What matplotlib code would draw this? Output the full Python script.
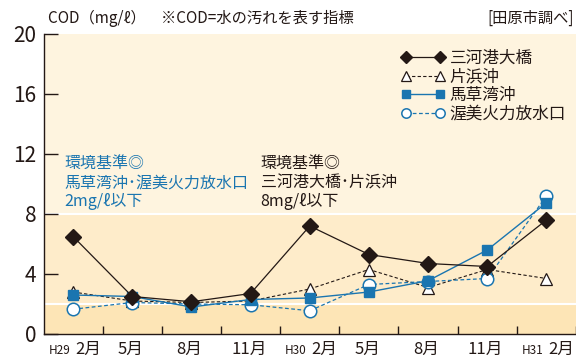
import numpy as np
import matplotlib
matplotlib.use('Agg')
import matplotlib.pyplot as plt
from matplotlib.transforms import blended_transform_factory

plt.rcParams['font.family'] = ['Noto Sans CJK JP', 'DejaVu Sans']

# months (quarterly survey), H29.2 - H31.2
months = ['2月', '5月', '8月', '11月', '2月', '5月', '8月', '11月', '2月']
era = ['H29', '', '', '', 'H30', '', '', '', 'H31']

# COD (mg/l) at each station
mikawa = [6.5, 2.5, 2.15, 2.7, 7.2, 5.3, 4.7, 4.5, 7.6]
katahama = [2.8, 2.2, 2.1, 2.2, 3.0, 4.3, 3.1, 4.3, 3.7]
bakusa = [2.6, 2.5, 1.8, 2.3, 2.4, 2.8, 3.55, 5.6, 8.75]
atsumi = [1.65, 2.1, 2.0, 1.95, 1.55, 3.3, 3.5, 3.7, 9.2]

black = '#231815'
blue = '#1a75b0'

x = np.arange(len(months))

fig = plt.figure(figsize=(5.76, 3.58), dpi=100)
ax = fig.add_axes([43.5 / 576, 24 / 358, 1 - 43.5 / 576, 300 / 358])
ax.set_xlim(-0.5, 8.5)
ax.set_ylim(0, 20)

# background bands for the standards (2 and 8 mg/l)
ax.axhspan(0, 2, color='#fde5b6', lw=0, zorder=0)
ax.axhspan(2, 8, color='#feecca', lw=0, zorder=0)
ax.axhspan(8, 20, color='#fef4df', lw=0, zorder=0)
ax.axhline(2, color='white', lw=1.5, zorder=1)
ax.axhline(8, color='white', lw=1.5, zorder=1)

l2, = ax.plot(x, katahama, ls=(0, (3, 2)), color=black, lw=0.8, marker='^', ms=9,
              mfc='white', mec=black, mew=0.9, zorder=3, label='片浜沖')
l4, = ax.plot(x, atsumi, ls=(0, (3, 2)), color=blue, lw=0.9, marker='o', ms=9,
              mfc='white', mec=blue, mew=1.1, zorder=4, label='渥美火力放水口')
l3, = ax.plot(x, bakusa, color=blue, lw=1.0, marker='s', ms=7.5,
              mfc=blue, mec=blue, zorder=5, label='馬草湾沖')
l1, = ax.plot(x, mikawa, color=black, lw=0.9, marker='D', ms=8,
              mfc=black, mec=black, zorder=6, label='三河港大橋')

for s in ['top', 'right']:
    ax.spines[s].set_visible(False)
ax.spines['left'].set_color(black)
ax.spines['bottom'].set_color(black)
ax.spines['left'].set_linewidth(1.0)
ax.spines['bottom'].set_linewidth(1.0)

ax.set_yticks([0, 4, 8, 12, 16, 20])
ax.set_yticklabels(['0', '4', '8', '12', '16', '20'], fontsize=15, color=black)
ax.tick_params(axis='y', direction='in', length=10, width=1.0, color=black, pad=5)

ax.set_xticks(np.arange(0.5, 8.6, 1.0))
ax.set_xticklabels([])
ax.tick_params(axis='x', direction='in', length=6, width=1.0, color=black)

# month labels under each point, era prefix in small type
trans = blended_transform_factory(ax.transData, ax.transAxes)
for i, (m, e) in enumerate(zip(months, era)):
    if e:
        ax.text(i + 0.03, -0.022, m, transform=trans, ha='left', va='top',
                fontsize=12, color=black)
        ax.text(i - 0.05, -0.032, e, transform=trans, ha='right', va='top',
                fontsize=8.5, color=black)
    else:
        ax.text(i - 0.03, -0.022, m, transform=trans, ha='center', va='top',
                fontsize=12, color=black)

fig.text(48 / 576, 1 - 18 / 358, 'COD（mg/ℓ）　※COD=水の汚れを表す指標', ha='left',
         va='center', fontsize=11, color=black)
fig.text(574 / 576, 1 - 18 / 358, '[田原市調べ]', ha='right', va='center',
         fontsize=11, color=black)

ax.text(-0.14, 11.4, '環境基準◎', color=blue, fontsize=11.5, va='center')
ax.text(-0.14, 10.07, '馬草湾沖･渥美火力放水口', color=blue, fontsize=11.5, va='center')
ax.text(-0.14, 8.85, '2mg/ℓ以下', color=blue, fontsize=11.5, va='center')
ax.text(3.17, 11.4, '環境基準◎', color=black, fontsize=11.5, va='center')
ax.text(3.17, 10.07, '三河港大橋･片浜沖', color=black, fontsize=11.5, va='center')
ax.text(3.17, 8.85, '8mg/ℓ以下', color=black, fontsize=11.5, va='center')

leg = ax.legend(handles=[l1, l2, l3, l4], loc='upper right', bbox_to_anchor=(1.0, 0.98),
                frameon=False, numpoints=2, handlelength=2.6, handletextpad=0.3,
                labelspacing=0.1, fontsize=12, borderaxespad=0.2, markerscale=0.75)
for t in leg.get_texts():
    t.set_color(black)

fig.savefig('out.png', dpi=100)
